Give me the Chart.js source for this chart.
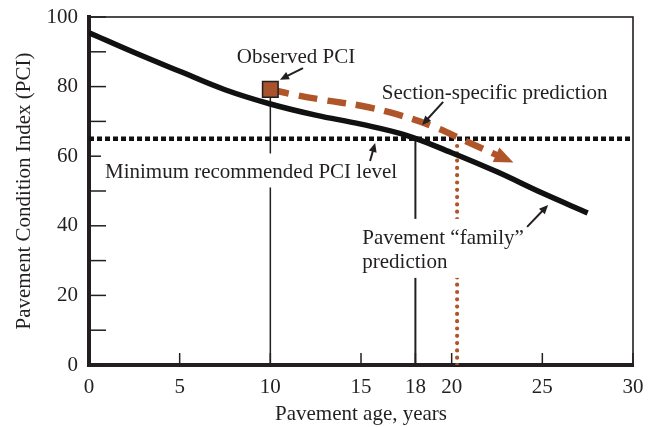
<!DOCTYPE html>
<html>
<head>
<meta charset="utf-8">
<script src="https://cdn.jsdelivr.net/npm/chart.js@4.4.0/dist/chart.umd.min.js"></script>
<style>
  html, body { margin: 0; padding: 0; background: #fff; }
  #wrap { width: 657px; height: 427px; }
</style>
</head>
<body>
<div id="wrap"><canvas id="chart"></canvas></div>
<script>
// family curve (age, PCI)
const familyAge = [0, 2.5, 5, 7.5, 10, 12.5, 15, 17.5, 20, 22.5, 25, 27.5];
const familyPCI = [95.5, 89.8, 84.4, 79.1, 75.0, 71.8, 69.2, 66.0, 61.0, 55.5, 49.4, 43.7];

// section-specific prediction from the observed point
const sectionAge = [10, 11.2, 13, 15, 17, 19, 20.8, 22.5];
const sectionPCI = [79.2, 77.8, 76.1, 74.5, 72.0, 68.5, 64.3, 60.3];

const observedAge = 10;
const observedPCI = 79.2;
const minPCI = 65;
const familyReachAge = 18;     // family curve hits the minimum
const sectionReachAge = 20.3;  // section prediction hits the minimum

const xTicks = [0, 5, 10, 15, 18, 20, 25, 30];
const yTicks = [0, 10, 20, 30, 40, 50, 60, 70, 80, 90, 100];

const ink = '#231f20';
const rust = '#b0552a';

const pts = (xs, ys) => xs.map((v, i) => ({ x: v, y: ys[i] }));

// annotation texts, anchored in data units (left, baseline)
const notes = [
  { text: 'Observed PCI', x: 8.15, y: 86.7 },
  { text: 'Section-specific prediction', x: 16.15, y: 76.3 },
  { text: 'Minimum recommended PCI level', x: 0.88, y: 53.6, mask: true },
  { text: 'Pavement \u201cfamily\u201d', x: 15.07, y: 34.8, mask: true, extra: 'prediction' },
];
const pointers = [
  [11.8, 85.3, 10.53, 82.0],
  [19.53, 75.6, 18.37, 69.0],
  [15.5, 58.6, 15.78, 63.8],
  [24.16, 39.7, 25.32, 46.0],
];

function arrowHead(ctx, x0, y0, x1, y1, len, half) {
  const a = Math.atan2(y1 - y0, x1 - x0);
  ctx.beginPath();
  ctx.moveTo(x1, y1);
  ctx.lineTo(x1 - len * Math.cos(a) + half * Math.sin(a), y1 - len * Math.sin(a) - half * Math.cos(a));
  ctx.lineTo(x1 - len * Math.cos(a) - half * Math.sin(a), y1 - len * Math.sin(a) + half * Math.cos(a));
  ctx.closePath();
  ctx.fill();
}

const overlay = {
  id: 'overlay',
  beforeDatasetsDraw(chart) {
    const { ctx, chartArea: a, scales: { x, y } } = chart;
    ctx.save();
    ctx.strokeStyle = ink;
    ctx.lineWidth = 1.6;
    ctx.strokeRect(a.left, a.top, a.right - a.left, a.bottom - a.top);
    ctx.lineWidth = 1.5;
    y.ticks.forEach(t => {
      const py = y.getPixelForValue(t.value);
      ctx.beginPath(); ctx.moveTo(a.left, py); ctx.lineTo(a.left + 17, py); ctx.stroke();
    });
    x.ticks.forEach(t => {
      const px = x.getPixelForValue(t.value);
      ctx.beginPath(); ctx.moveTo(px, a.bottom); ctx.lineTo(px, a.bottom - 12); ctx.stroke();
    });
    ctx.restore();
  },
  afterDatasetsDraw(chart) {
    const { ctx, scales: { x, y } } = chart;
    ctx.save();
    ctx.font = '21px "Liberation Serif", "Times New Roman", serif';
    ctx.textBaseline = 'alphabetic';
    // white boxes behind labels cut the vertical lines
    notes.filter(n => n.mask).forEach(n => {
      const px = x.getPixelForValue(n.x), py = y.getPixelForValue(n.y);
      let w = ctx.measureText(n.text).width;
      let bottom = py + 9;
      if (n.extra) { w = Math.max(w, ctx.measureText(n.extra).width); bottom = py + 24 + 10; }
      ctx.fillStyle = '#fff';
      ctx.fillRect(px - 4, py - 25, w + 8, bottom - (py - 25));
    });
    ctx.fillStyle = ink;
    notes.forEach(n => {
      const px = x.getPixelForValue(n.x), py = y.getPixelForValue(n.y);
      ctx.fillText(n.text, px, py);
      if (n.extra) ctx.fillText(n.extra, px, py + 24.3);
    });
    // small pointer arrows
    ctx.strokeStyle = ink; ctx.lineWidth = 2;
    pointers.forEach(p => {
      const x0 = x.getPixelForValue(p[0]), y0 = y.getPixelForValue(p[1]);
      const x1 = x.getPixelForValue(p[2]), y1 = y.getPixelForValue(p[3]);
      const a = Math.atan2(y1 - y0, x1 - x0);
      ctx.beginPath(); ctx.moveTo(x0, y0); ctx.lineTo(x1 - 6 * Math.cos(a), y1 - 6 * Math.sin(a)); ctx.stroke();
      arrowHead(ctx, x0, y0, x1, y1, 9, 4);
    });
    // head on the section-specific prediction
    const d = chart.getDatasetMeta(1).data;
    const p0 = d[d.length - 2], p1 = d[d.length - 1];
    const a = Math.atan2(p1.y - p0.y, p1.x - p0.x);
    const tx = p1.x + 18 * Math.cos(a), ty = p1.y + 18 * Math.sin(a);
    ctx.fillStyle = rust;
    arrowHead(ctx, p1.x, p1.y, tx, ty, 19, 8);
    ctx.restore();
  }
};

Chart.defaults.font.family = '"Liberation Serif", "Times New Roman", serif';
Chart.defaults.color = ink;

new Chart(document.getElementById('chart'), {
  type: 'line',
  data: {
    datasets: [
      {
        label: 'Observed PCI',
        data: [{ x: observedAge, y: observedPCI }],
        showLine: false,
        pointStyle: 'rect', pointRadius: 11,
        backgroundColor: '#a8532b', borderColor: ink, borderWidth: 1.5,
        order: 0
      },
      {
        label: 'Section-specific prediction',
        data: pts(sectionAge, sectionPCI),
        borderColor: rust, borderWidth: 6.5, borderDash: [19, 10],
        tension: 0.4, pointRadius: 0,
        order: 1
      },
      {
        label: 'Pavement family prediction',
        data: pts(familyAge, familyPCI),
        borderColor: '#111', borderWidth: 5.5,
        tension: 0.4, pointRadius: 0,
        order: 2
      },
      {
        label: 'age at observation',
        data: [{ x: observedAge, y: 0 }, { x: observedAge, y: observedPCI }],
        borderColor: ink, borderWidth: 1.5, pointRadius: 0,
        order: 3
      },
      {
        label: 'family reach',
        data: [{ x: familyReachAge, y: 0 }, { x: familyReachAge, y: minPCI }],
        borderColor: ink, borderWidth: 2, pointRadius: 0,
        order: 3
      },
      {
        label: 'section reach',
        data: [{ x: sectionReachAge, y: 0 }, { x: sectionReachAge, y: minPCI }],
        borderColor: rust, borderWidth: 4.2, borderDash: [0, 7.3], borderCapStyle: 'round',
        pointRadius: 0,
        order: 3
      },
      {
        label: 'Minimum recommended PCI level',
        data: [{ x: 0, y: minPCI }, { x: 30, y: minPCI }],
        borderColor: '#111', borderWidth: 4.5, borderDash: [5, 3], pointRadius: 0,
        order: 4
      }
    ]
  },
  options: {
    responsive: true,
    maintainAspectRatio: false,
    animation: false,
    layout: { padding: { top: 17, right: 24, left: 0, bottom: 0 } },
    plugins: { legend: { display: false }, tooltip: { enabled: false } },
    scales: {
      x: {
        type: 'linear', min: 0, max: 30,
        afterBuildTicks: s => { s.ticks = xTicks.map(v => ({ value: v })); },
        afterFit: s => { s.height = 62; s.paddingLeft = 0; s.paddingRight = 0; },
        grid: { display: false, drawTicks: false },
        border: { display: true, width: 4, color: ink },
        ticks: { font: { size: 21 }, padding: 10, color: ink, maxRotation: 0 },
        title: { display: true, text: 'Pavement age, years', font: { size: 21 }, padding: { top: 0, bottom: 0 }, color: ink }
      },
      y: {
        type: 'linear', min: 0, max: 100,
        afterBuildTicks: s => { s.ticks = yTicks.map(v => ({ value: v })); },
        afterFit: s => { s.width = 89; s.paddingTop = 0; s.paddingBottom = 0; },
        grid: { display: false, drawTicks: false },
        border: { display: true, width: 4, color: ink },
        ticks: { font: { size: 21 }, padding: 11, color: ink, callback: v => (v % 20 === 0 ? v : '') },
        title: { display: true, text: 'Pavement Condition Index (PCI)', font: { size: 21 }, padding: { top: 12, bottom: 0 }, color: ink }
      }
    }
  },
  plugins: [overlay]
});
</script>
</body>
</html>
